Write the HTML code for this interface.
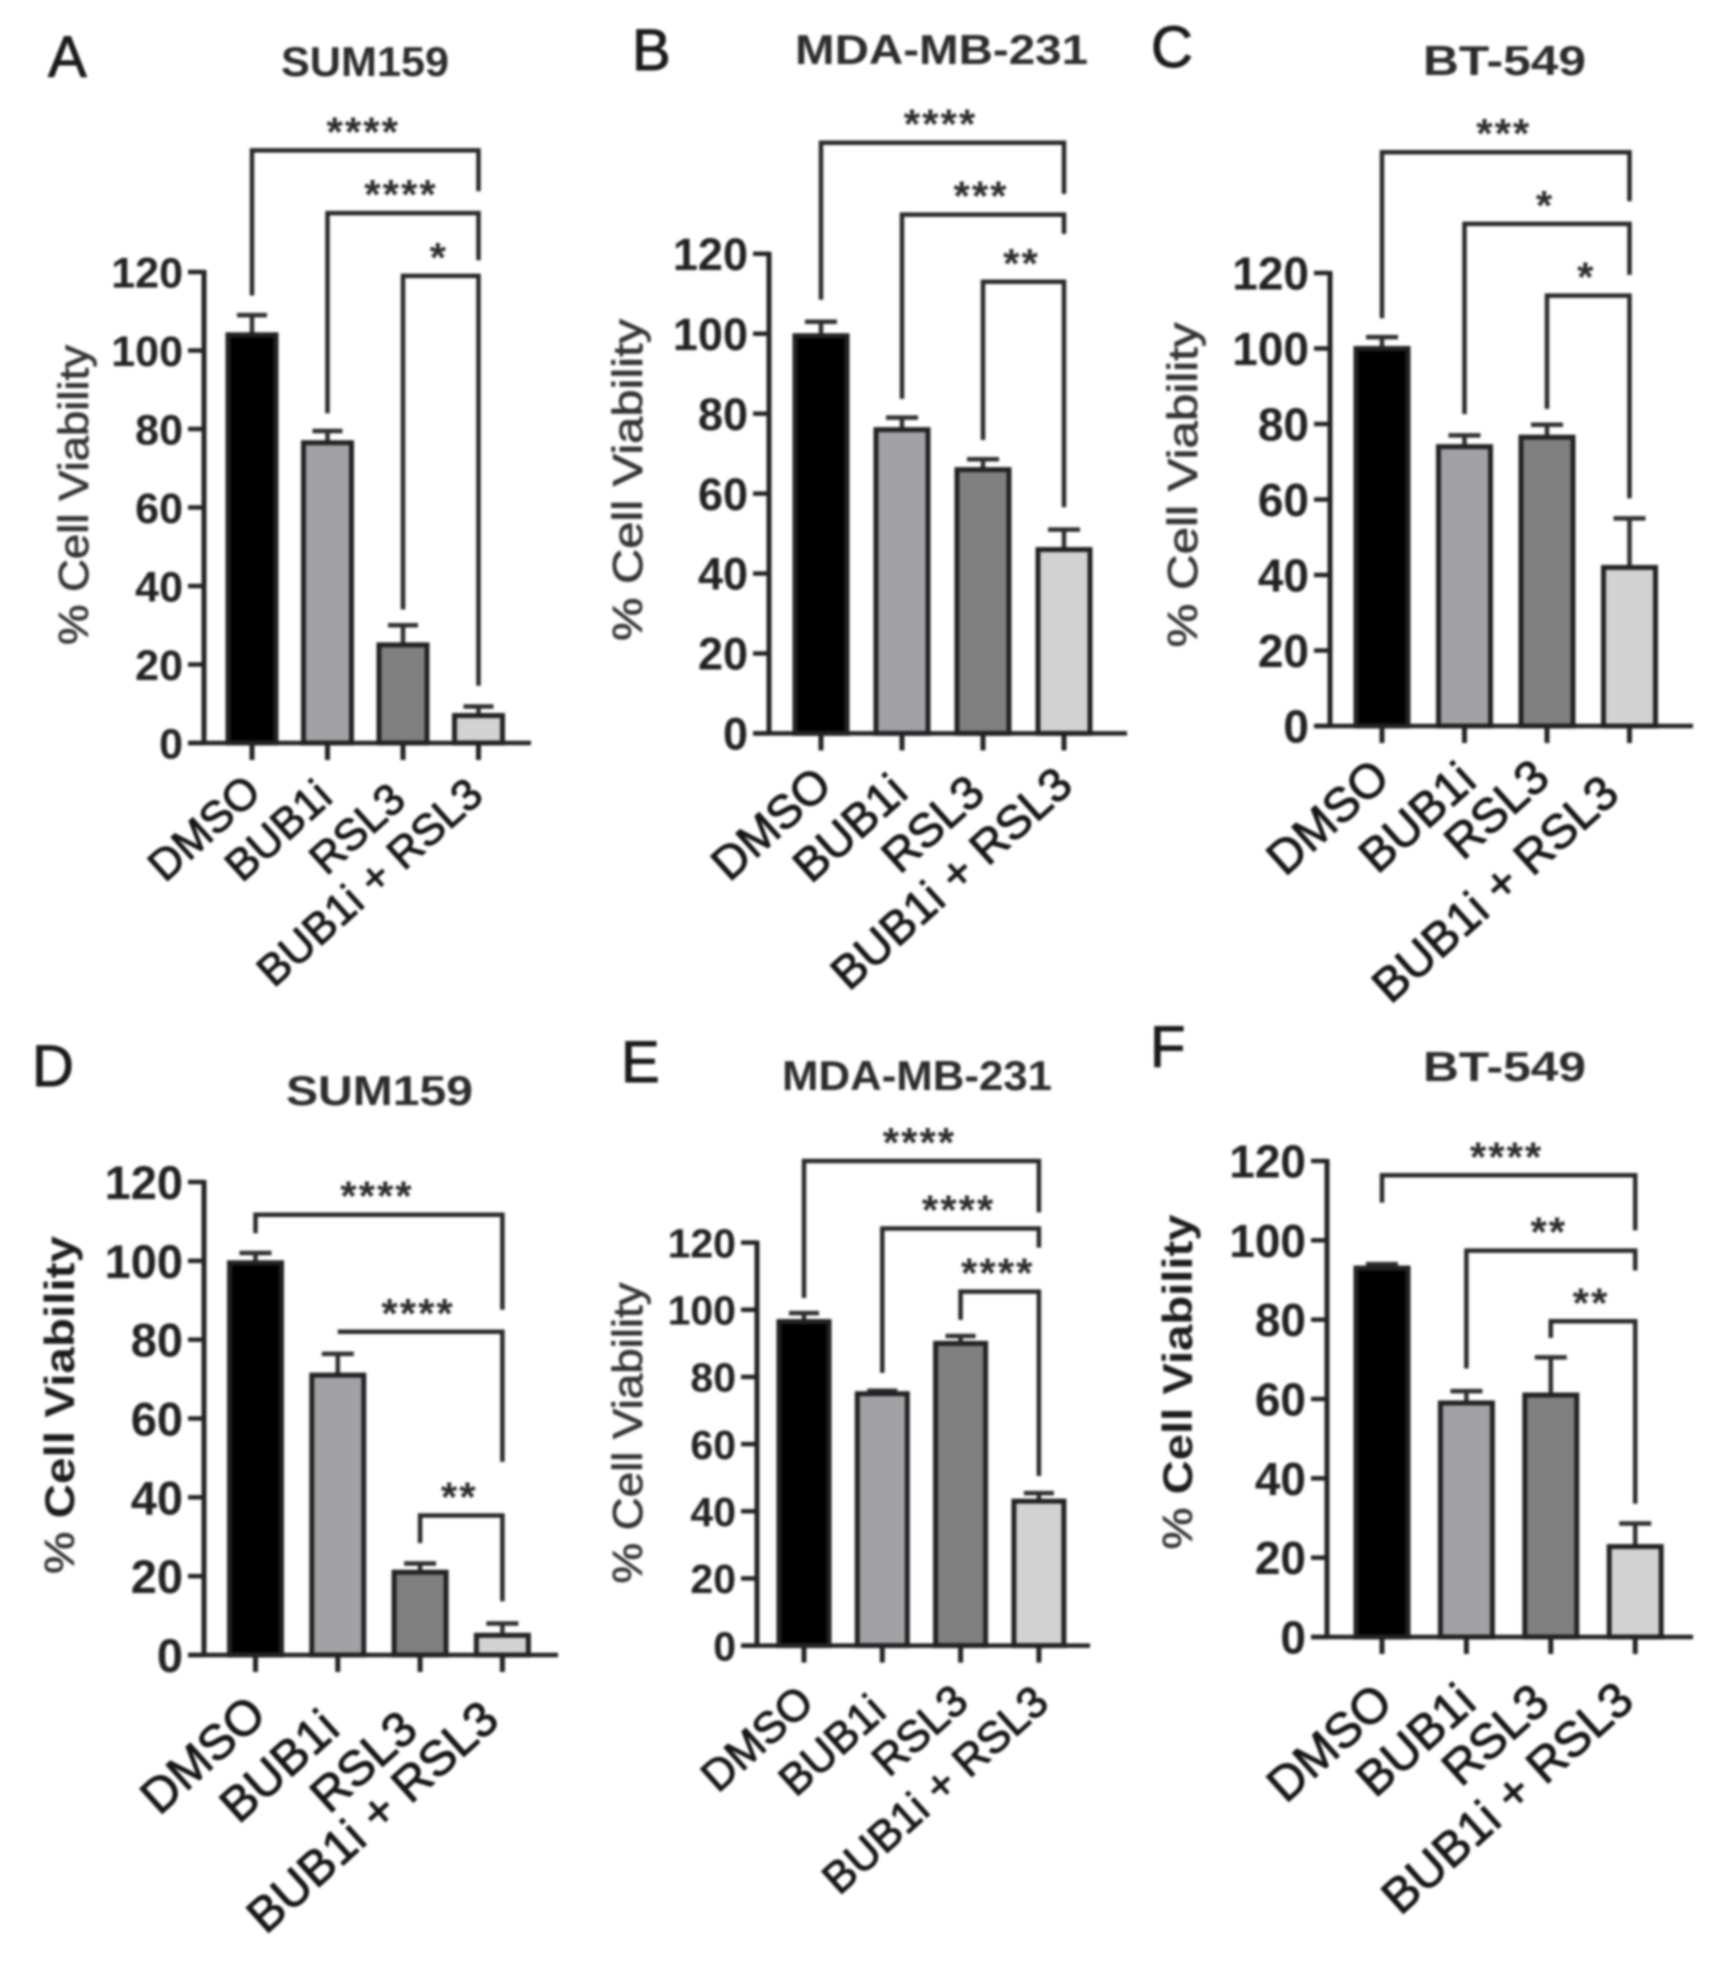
<!DOCTYPE html>
<html lang="en">
<head>
<meta charset="utf-8">
<title>Cell viability bar charts</title>
<style>
html,body{margin:0;padding:0;background:#fff;}
svg{display:block;filter:blur(1.2px);}
text{font-family:"Liberation Sans",sans-serif;fill:#262626;}
.letter{font-size:58px;fill:#1a1a1a;stroke:#1a1a1a;stroke-width:1px;}
.title{font-size:42px;font-weight:bold;fill:#2c2c2c;}
.ytitle{font-size:42px;fill:#333;stroke:#333;stroke-width:0.7px;}
.ytitle .strong{font-weight:bold;fill:#1c1c1c;stroke:none;}
.tick{font-weight:bold;fill:#222;}
.xlab{fill:#161616;stroke:#161616;stroke-width:1px;}
.stars{font-size:42px;font-weight:bold;fill:#2c2c2c;letter-spacing:2px;}
</style>
</head>
<body>
<svg id="figure" xmlns="http://www.w3.org/2000/svg" width="1709" height="1963" viewBox="0 0 1709 1963">
  <rect width="1709" height="1963" fill="#fff"/>

  <g id="panel-a">
    <text class="letter" x="48" y="77">A</text>
    <text class="title" x="281" y="76" textLength="168" lengthAdjust="spacingAndGlyphs">SUM159</text>
    <text class="ytitle" transform="translate(88,495) rotate(-90)" text-anchor="middle" textLength="300" lengthAdjust="spacingAndGlyphs">% Cell Viability</text>
  </g>

  <g id="panel-b">
    <text class="letter" x="632" y="70">B</text>
    <text class="title" x="795" y="64" textLength="293" lengthAdjust="spacingAndGlyphs">MDA-MB-231</text>
    <text class="ytitle" transform="translate(642,480) rotate(-90)" text-anchor="middle" textLength="322" lengthAdjust="spacingAndGlyphs">% Cell Viability</text>
  </g>

  <g id="panel-c">
    <text class="letter" x="1151" y="67">C</text>
    <text class="title" x="1423" y="75" textLength="163" lengthAdjust="spacingAndGlyphs">BT-549</text>
    <text class="ytitle" transform="translate(1197,485) rotate(-90)" text-anchor="middle" textLength="325" lengthAdjust="spacingAndGlyphs">% Cell Viability</text>
  </g>

  <g id="panel-d">
    <text class="letter" x="32" y="1086">D</text>
    <text class="title" x="286" y="1105" textLength="187" lengthAdjust="spacingAndGlyphs">SUM159</text>
    <text class="ytitle" transform="translate(74,1405) rotate(-90)" text-anchor="middle" textLength="338" lengthAdjust="spacingAndGlyphs">% <tspan class="strong">Cell Viability</tspan></text>
  </g>

  <g id="panel-e">
    <text class="letter" x="621" y="1082">E</text>
    <text class="title" x="782" y="1090" textLength="270" lengthAdjust="spacingAndGlyphs">MDA-MB-231</text>
    <text class="ytitle" transform="translate(642,1433) rotate(-90)" text-anchor="middle" textLength="301" lengthAdjust="spacingAndGlyphs">% Cell Viability</text>
  </g>

  <g id="panel-f">
    <text class="letter" x="1150" y="1067">F</text>
    <text class="title" x="1423" y="1081" textLength="163" lengthAdjust="spacingAndGlyphs">BT-549</text>
    <text class="ytitle" transform="translate(1192,1382) rotate(-90)" text-anchor="middle" textLength="335" lengthAdjust="spacingAndGlyphs">% <tspan class="strong">Cell Viability</tspan></text>
  </g>
</svg>

<script>
// Shared categories and ticks
const categories = ['DMSO', 'BUB1i', 'RSL3', 'BUB1i + RSL3'];
const yTickValues = [0, 20, 40, 60, 80, 100, 120];
const barColors = ['#000000', '#a2a2a6', '#808080', '#d2d2d2'];
const bracketPairs = [[0, 3], [1, 3], [2, 3]];

// Panel A
const valuesA = [104, 76.5, 25, 7];
const errorTopsA = [109, 79.5, 30, 9.3];
const bracketTopsA = [151, 135, 119];
const bracketLeftEndsA = [114, 84, 34];
const bracketRightEndsA = [140.6, 123, 14.6];
const significanceA = ['****', '****', '*'];

// Panel B
const valuesB = [99.5, 76, 66, 46];
const errorTopsB = [103, 79, 68.6, 51];
const bracketTopsB = [147.8, 129.8, 113];
const bracketLeftEndsB = [108.5, 83.7, 73.4];
const bracketRightEndsB = [135, 125, 56.6];
const significanceB = ['****', '***', '**'];

// Panel C
const valuesC = [100, 74, 76.5, 42];
const errorTopsC = [103, 77, 79.8, 55];
const bracketTopsC = [152, 133, 114];
const bracketLeftEndsC = [108, 82.6, 84];
const bracketRightEndsC = [139, 119.5, 60.3];
const significanceC = ['***', '*', '*'];

// Panel D
const valuesD = [99.5, 71, 21, 5];
const errorTopsD = [102, 76.4, 23.2, 8];
const bracketTopsD = [111.7, 82, 35.4];
const bracketLeftEndsD = [107, 82, 28.4];
const bracketRightEndsD = [87.6, 49, 13.6];
const significanceD = ['****', '****', '**'];

// Panel E
const valuesE = [96.5, 75, 90, 43];
const errorTopsE = [99, 75.9, 92.2, 45.4];
const bracketTopsE = [144.3, 124.2, 105.4];
const bracketLeftEndsE = [103.5, 81.2, 97];
const bracketRightEndsE = [129, 118.5, 50.5];
const significanceE = ['****', '****', '****'];

// Panel F
const valuesF = [93, 59, 61, 22.8];
const errorTopsF = [94, 62, 70.5, 28.6];
const bracketTopsF = [116.4, 97.4, 79.6];
const bracketLeftEndsF = [109.5, 67.7, 75.4];
const bracketRightEndsF = [102.5, 92.4, 33.6];
const significanceF = ['****', '**', '**'];

const SVG_NS = 'http://www.w3.org/2000/svg';

function make(parent, tag, attrs, text) {
  const node = document.createElementNS(SVG_NS, tag);
  for (const key in attrs) node.setAttribute(key, attrs[key]);
  if (text !== undefined) node.textContent = text;
  parent.appendChild(node);
  return node;
}

function drawPanel(cfg) {
  const root = document.getElementById(cfg.id);
  const letter = cfg.id.slice(-1);
  const yScale = function (v) { return cfg.y0 - v * (cfg.y0 - cfg.y120) / 120; };
  const xScale = function (i) { return cfg.xStart + i * cfg.xStep; };
  const ink = '#222';

  // Bars and error bars
  cfg.values.forEach(function (value, i) {
    const c = xScale(i);
    const top = yScale(value);
    const errTop = yScale(cfg.errorTops[i]);

    const stem = make(root, 'line', { x1: c, x2: c, y1: top, y2: errTop, stroke: '#2e2e2e', 'stroke-width': 4.5 });
    
    

    const cap = make(root, 'line', { x1: c - cfg.cap, x2: c + cfg.cap, y1: errTop, y2: errTop, stroke: '#2e2e2e', 'stroke-width': 4.5 });
    
    

    const bar = make(root, 'rect', { x: c - cfg.halfWidth, y: top, width: cfg.halfWidth * 2, height: cfg.y0 - top, fill: barColors[i], stroke: ink, 'stroke-width': 5 });
    
    
  });

  // Y axis
  const yAxis = make(root, 'line', { x1: cfg.axisX, x2: cfg.axisX, y1: yScale(120) - 2, y2: yScale(0) + 2, stroke: ink, 'stroke-width': 5 });
  
  

  yTickValues.forEach(function (t) {
    const y = yScale(t);
    const tick = make(root, 'line', { x1: cfg.axisX - 16, x2: cfg.axisX, y1: y, y2: y, stroke: ink, 'stroke-width': 4.5 });
    
    

    const label = make(root, 'text', { class: 'tick', x: cfg.axisX - 21, y: y + cfg.tickFont * 0.36, 'text-anchor': 'end', 'font-size': cfg.tickFont }, String(t));
    
    
  });

  // X axis
  const xAxis = make(root, 'line', { x1: cfg.axisX - 16, x2: cfg.axisEnd, y1: yScale(0), y2: yScale(0), stroke: ink, 'stroke-width': 4.5 });
  
  

  categories.forEach(function (name, i) {
    const c = xScale(i);
    const tick = make(root, 'line', { x1: c, x2: c, y1: yScale(0), y2: yScale(0) + 17, stroke: ink, 'stroke-width': 5 });
    
    

    const shift = cfg.labelShift[i];
    const label = make(root, 'text', {
      class: 'xlab',
      'text-anchor': 'end',
      'font-size': cfg.xFont,
      transform: 'translate(' + (c + 10 + shift[0]) + ',' + (yScale(0) + 52 + shift[1]) + ') rotate(-42)'
    }, name);
    
    
  });

  // Significance brackets
  bracketPairs.forEach(function (pair, k) {
    const xa = xScale(pair[0]);
    const xb = xScale(pair[1]);
    const yTop = yScale(cfg.tops[k]);
    const d = 'M' + xa + ' ' + yScale(cfg.leftEnds[k]) + ' L' + xa + ' ' + yTop + ' L' + xb + ' ' + yTop + ' L' + xb + ' ' + yScale(cfg.rightEnds[k]);
    const bracket = make(root, 'path', { d: d, fill: 'none', stroke: '#282828', 'stroke-width': 4.5 });
    
    

    const stars = make(root, 'text', { class: 'stars', x: (xa + xb) / 2 - 2, y: yTop - 4, 'text-anchor': 'middle' }, cfg.stars[k]);
    
    
  });
}

drawPanel({ id: 'panel-a', values: valuesA, errorTops: errorTopsA, tops: bracketTopsA, leftEnds: bracketLeftEndsA, rightEnds: bracketRightEndsA, stars: significanceA,
  axisX: 204, axisEnd: 531, y0: 743, y120: 272, xStart: 252, xStep: 75.5, halfWidth: 24, cap: 15, tickFont: 43, xFont: 44,
  labelShift: [[1, 0], [-3, 5], [-5, 8], [-3, 3]] });
drawPanel({ id: 'panel-b', values: valuesB, errorTops: errorTopsB, tops: bracketTopsB, leftEnds: bracketLeftEndsB, rightEnds: bracketRightEndsB, stars: significanceB,
  axisX: 769, axisEnd: 1127, y0: 733.4, y120: 253.8, xStart: 821, xStep: 81, halfWidth: 26, cap: 16, tickFont: 45, xFont: 47,
  labelShift: [[3, 3], [-2, 10], [-6, 11], [1, 3]] });
drawPanel({ id: 'panel-c', values: valuesC, errorTops: errorTopsC, tops: bracketTopsC, leftEnds: bracketLeftEndsC, rightEnds: bracketRightEndsC, stars: significanceC,
  axisX: 1330, axisEnd: 1693, y0: 726, y120: 273, xStart: 1382, xStep: 82.5, halfWidth: 26, cap: 16, tickFont: 46, xFont: 48,
  labelShift: [[0, 3], [4, 6], [-5, 3], [-18, 19]] });
drawPanel({ id: 'panel-d', values: valuesD, errorTops: errorTopsD, tops: bracketTopsD, leftEnds: bracketLeftEndsD, rightEnds: bracketRightEndsD, stars: significanceD,
  axisX: 204, axisEnd: 558, y0: 1655, y120: 1182, xStart: 255.5, xStep: 82.3, halfWidth: 26, cap: 16, tickFont: 47, xFont: 49,
  labelShift: [[3, 11], [-6, 25], [-10, 26], [-11, 16]] });
drawPanel({ id: 'panel-e', values: valuesE, errorTops: errorTopsE, tops: bracketTopsE, leftEnds: bracketLeftEndsE, rightEnds: bracketRightEndsE, stars: significanceE,
  axisX: 757, axisEnd: 1090, y0: 1645.6, y120: 1242.6, xStart: 804, xStep: 78.3, halfWidth: 25, cap: 15, tickFont: 41, xFont: 44,
  labelShift: [[2, 8], [-4, 17], [0, 7], [2, 8]] });
drawPanel({ id: 'panel-f', values: valuesF, errorTops: errorTopsF, tops: bracketTopsF, leftEnds: bracketLeftEndsF, rightEnds: bracketRightEndsF, stars: significanceF,
  axisX: 1327, axisEnd: 1693, y0: 1637, y120: 1161, xStart: 1382, xStep: 84.4, halfWidth: 26, cap: 16, tickFont: 46, xFont: 49,
  labelShift: [[3, 17], [2, 17], [-9, 17], [-9, 15]] });
</script>
</body>
</html>
